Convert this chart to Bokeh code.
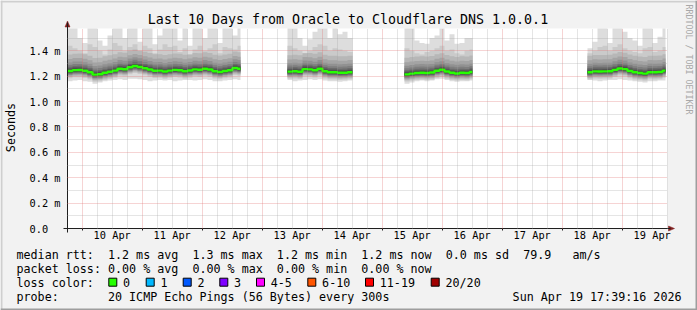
import math
import re
from bokeh.plotting import figure
from bokeh.models import FixedTicker, Range1d
from bokeh.core.properties import value
from bokeh.embed import file_html
from bokeh.resources import INLINE

# ---------------- data ----------------
title_text = "Last 10 Days from Oracle to Cloudflare DNS 1.0.0.1"
x_window = [-5.88, 234.12]          # hours since 10 Apr 00:00
y_window = [0.0, 1.575]             # milliseconds
seg_start = [-5.88, 82.12, 128.92, 202.12]
seg_end = [63.32, 108.12, 156.12, 233.32]
bin_hours = 2.0

median_1 = [1.240, 1.247, 1.248, 1.242, 1.230, 1.212, 1.215, 1.226, 1.234, 1.243,
            1.258, 1.254, 1.270, 1.280, 1.272, 1.262, 1.252, 1.242, 1.243, 1.236,
            1.243, 1.249, 1.246, 1.238, 1.244, 1.253, 1.250, 1.258, 1.252, 1.238,
            1.232, 1.240, 1.246, 1.264, 1.258]
median_2 = [1.235, 1.238, 1.234, 1.255, 1.253, 1.246, 1.258, 1.238, 1.230, 1.230,
            1.226, 1.227, 1.231]
median_3 = [1.214, 1.220, 1.225, 1.227, 1.225, 1.228, 1.242, 1.250, 1.236, 1.226,
            1.221, 1.226, 1.224, 1.232]
median_4 = [1.230, 1.237, 1.236, 1.237, 1.238, 1.249, 1.260, 1.255, 1.240, 1.230,
            1.224, 1.220, 1.231, 1.230, 1.232, 1.243]

ping_max_1 = [1.60, 1.60, 1.50, 1.46, 1.60, 1.60, 1.48, 1.44, 1.52, 1.60,
              1.60, 1.50, 1.60, 1.60, 1.47, 1.60, 1.60, 1.45, 1.52, 1.60,
              1.60, 1.60, 1.48, 1.60, 1.44, 1.60, 1.60, 1.50, 1.60, 1.60,
              1.46, 1.60, 1.60, 1.52, 1.60]
ping_max_2 = [1.60, 1.60, 1.50, 1.44, 1.49, 1.55, 1.60, 1.60, 1.50, 1.60,
              1.53, 1.55, 1.50]
ping_max_3 = [1.60, 1.60, 1.48, 1.46, 1.455, 1.50, 1.52, 1.60, 1.48, 1.53,
              1.455, 1.46, 1.50, 1.50]
ping_max_4 = [1.42, 1.47, 1.60, 1.60, 1.46, 1.60, 1.60, 1.55, 1.50, 1.48,
              1.44, 1.60, 1.60, 1.46, 1.51, 1.60]

ping_p19_1 = [1.44, 1.42, 1.40, 1.38, 1.45, 1.43, 1.40, 1.37, 1.41, 1.46,
              1.44, 1.40, 1.43, 1.45, 1.40, 1.44, 1.42, 1.38, 1.41, 1.45,
              1.43, 1.44, 1.39, 1.42, 1.37, 1.41, 1.44, 1.40, 1.42, 1.45,
              1.38, 1.43, 1.42, 1.41, 1.44]
ping_p19_2 = [1.44, 1.42, 1.40, 1.38, 1.40, 1.43, 1.45, 1.44, 1.40, 1.42,
              1.41, 1.40, 1.39]
ping_p19_3 = [1.42, 1.40, 1.38, 1.37, 1.39, 1.40, 1.42, 1.44, 1.40, 1.41,
              1.38, 1.37, 1.40, 1.41]
ping_p19_4 = [1.38, 1.40, 1.43, 1.44, 1.40, 1.43, 1.45, 1.42, 1.40, 1.39,
              1.38, 1.42, 1.43, 1.39, 1.40, 1.43]

ping_min_1 = [1.160, 1.165, 1.170, 1.160, 1.155, 1.140, 1.150, 1.160, 1.165, 1.170,
              1.175, 1.170, 1.180, 1.180, 1.175, 1.170, 1.160, 1.165, 1.170, 1.165,
              1.170, 1.160, 1.165, 1.170, 1.170, 1.165, 1.170, 1.175, 1.170, 1.160,
              1.160, 1.165, 1.170, 1.175, 1.170]
ping_min_2 = [1.170, 1.160, 1.165, 1.170, 1.175, 1.170, 1.175, 1.165, 1.160, 1.160,
              1.155, 1.160, 1.165]
ping_min_3 = [1.140, 1.150, 1.160, 1.165, 1.160, 1.165, 1.175, 1.180, 1.170, 1.160,
              1.155, 1.160, 1.160, 1.165]
ping_min_4 = [1.170, 1.165, 1.160, 1.165, 1.170, 1.170, 1.175, 1.170, 1.165, 1.160,
              1.155, 1.150, 1.160, 1.160, 1.165, 1.165]

# typical offset of the inner sorted pings from the median (ms)
lower_offsets = [-0.056, -0.046, -0.038, -0.031, -0.025, -0.020, -0.015, -0.010, -0.005]  # cp2..cp10
upper_offsets = [0.006, 0.013, 0.022, 0.033, 0.048, 0.068, 0.095, 0.130]                  # cp11..cp18

x_tick_hours = [12, 36, 60, 84, 108, 132, 156, 180, 204, 228]
x_tick_labels = ["10 Apr", "11 Apr", "12 Apr", "13 Apr", "14 Apr",
                 "15 Apr", "16 Apr", "17 Apr", "18 Apr", "19 Apr"]
y_tick_values = [0.0, 0.2, 0.4, 0.6, 0.8, 1.0, 1.2, 1.4]
y_tick_labels = ["0.0\u00a0\u00a0", "0.2 m", "0.4 m", "0.6 m", "0.8 m", "1.0 m", "1.2 m", "1.4 m"]

rtt_values = ["1.2 ms avg", "1.3 ms max", "1.2 ms min", "1.2 ms now", "0.0 ms sd", "79.9   am/s"]
loss_values = ["0.00 % avg", "0.00 % max", "0.00 % min", "0.00 % now"]
loss_labels = ["0", "1", "2", "3", "4-5", "6-10", "11-19", "20/20"]
loss_colors = ["#26ff00", "#00b8ff", "#0059ff", "#7e00ff", "#ff00ff", "#ff5500", "#ff0000", "#a00000"]
probe_text = "20 ICMP Echo Pings (56 Bytes) every 300s"
stamp_text = "Sun Apr 19 17:39:16 2026"

medians = [median_1, median_2, median_3, median_4]
maxes = [ping_max_1, ping_max_2, ping_max_3, ping_max_4]
p19s = [ping_p19_1, ping_p19_2, ping_p19_3, ping_p19_4]
mins = [ping_min_1, ping_min_2, ping_min_3, ping_min_4]

# ---------------- layout helpers (pixel -> data) ----------------
W, H = 697, 310
FL, FT, FR, FB = 67, 28, 667, 228
XPX = (FR - FL) / (x_window[1] - x_window[0])     # px per hour
YPX = (FB - FT) / (y_window[1] - y_window[0])     # px per ms
MONO = "DejaVu Sans Mono"


def xd(X):
    return x_window[0] + (X - FL) / XPX


def yd(Y):
    return y_window[0] + (FB - Y) / YPX


def keep_spaces(s):
    # keep runs of blanks (SVG collapses plain whitespace)
    return re.sub(r" {2,}", lambda m: " " + "\u00a0" * (len(m.group()) - 1), s)


p = figure(width=W, height=H, output_backend="svg", toolbar_location=None,
           x_range=Range1d(xd(0), xd(W)), y_range=Range1d(yd(H), yd(0)),
           min_border=0, min_border_left=0, min_border_right=0,
           min_border_top=0, min_border_bottom=0)
p.border_fill_color = "#f2f2f2"
p.background_fill_color = "#f2f2f2"
p.outline_line_color = None

# canvas
p.quad(left=[x_window[0]], right=[x_window[1]], bottom=[y_window[0]], top=[y_window[1]],
       fill_color="#ffffff", line_color=None)

# smoke
smoke_greys = []
half = 10
for ib in range(1, 11):
    c = int(190 / half * (half - ib)) + 50
    smoke_greys.append("#%02x%02x%02x" % (c, c, c))

top = y_window[1]
for s in range(4):
    n = len(medians[s])
    xs = [seg_start[s] + i * bin_hours for i in range(n)] + [seg_end[s]]
    cps = {k: [] for k in range(1, 21)}
    for i in range(n):
        m = medians[s][i]
        lo = mins[s][i]
        hi19 = p19s[s][i]
        cps[1].append(lo)
        cps[20].append(min(maxes[s][i], top))
        cps[19].append(min(hi19, top))
        for k in range(2, 11):
            cps[k].append(max(m + lower_offsets[k - 2], lo))
        for k in range(11, 19):
            cps[k].append(min(m + upper_offsets[k - 11], hi19))
    for k in cps:
        cps[k].append(cps[k][-1])
    for ib in range(1, 11):
        p.varea_step(x=xs, y1=cps[ib], y2=cps[21 - ib], step_mode="after",
                     fill_color=smoke_greys[ib - 1])
    med = medians[s] + [medians[s][-1]]
    p.step(xs, med, mode="after", line_color=loss_colors[0], line_width=2.4)

# axes (drawn at fixed positions inside the full-canvas frame)
axis_col = "#1f1f1f"
for ax in (p.xaxis[0], p.yaxis[0]):
    ax.axis_line_color = axis_col
    ax.major_label_text_font = MONO
    ax.major_label_text_font_size = "10.3px"
    ax.major_label_text_color = "#000000"
    ax.major_tick_in = 0
    ax.major_tick_out = 0
    ax.minor_tick_in = 0
    ax.minor_tick_out = 0

midnights = [24 * d for d in range(0, 10)]
six_hours = [h for h in range(6, 235, 6) if h % 24 != 0]
p.xaxis.fixed_location = y_window[0]
p.xaxis.bounds = (xd(FL - 4), xd(670))
p.xaxis.ticker = FixedTicker(ticks=x_tick_hours, minor_ticks=midnights)
p.xaxis.major_label_overrides = dict(zip(x_tick_hours, x_tick_labels))
p.xaxis.major_label_standoff = -2
p.xaxis.minor_tick_out = 2
p.xaxis.minor_tick_line_color = axis_col

p.yaxis.fixed_location = x_window[0]
p.yaxis.bounds = (yd(FB + 4), yd(22))
p.yaxis.ticker = FixedTicker(ticks=y_tick_values)
p.yaxis.major_label_overrides = dict(zip(y_tick_values, y_tick_labels))
p.yaxis.major_label_standoff = 7

minor_y = [0.1, 0.3, 0.5, 0.7, 0.9, 1.1, 1.3, 1.5]
p.xgrid.ticker = FixedTicker(ticks=midnights, minor_ticks=six_hours)
p.ygrid.ticker = FixedTicker(ticks=y_tick_values[1:], minor_ticks=minor_y)
p.xgrid.bounds = tuple(x_window)
p.xgrid.cross_bounds = tuple(y_window)
p.ygrid.bounds = tuple(y_window)
p.ygrid.cross_bounds = tuple(x_window)
for g in (p.xgrid[0], p.ygrid[0]):
    g.grid_line_color = "#e07070"
    g.grid_line_alpha = 0.6
    g.grid_line_dash = [1, 1]
    g.grid_line_width = 1
    g.minor_grid_line_color = "#a0a0a0"
    g.minor_grid_line_alpha = 0.55
    g.minor_grid_line_dash = [1, 1]
    g.minor_grid_line_width = 1
    g.level = "overlay"

# arrow heads
arrow_col = "#801f1f"
p.patch([xd(FL - 2.5), xd(FL), xd(FL + 2.5)], [yd(26.5), yd(20.5), yd(26.5)],
        fill_color=arrow_col, line_color=arrow_col, line_width=0.5)
p.patch([xd(668), xd(674), xd(668)], [yd(225.5), yd(FB), yd(230.5)],
        fill_color=arrow_col, line_color=arrow_col, line_width=0.5)


def text(X, Y, t, size="11.7px", align="left", angle=0.0, color="#000000"):
    p.text(x=[xd(X)], y=[yd(Y)], text=[keep_spaces(t)], text_font=value(MONO),
           text_font_size=value(size), text_align=align, text_baseline="middle",
           angle=angle, text_color=color)


def box(X0, Y0, X1, Y1, fill, line=None):
    p.quad(left=[xd(X0)], right=[xd(X1)], top=[yd(Y0)], bottom=[yd(Y1)],
           fill_color=fill, line_color=line, line_width=1)


# texts
text(347.5, 19.3, title_text, size="13.3px", align="center")
text(10.5, 127, "Seconds", align="center", angle=math.pi / 2)
text(688.5, 4, "RRDTOOL / TOBI OETIKER", size="8.3px", align="left",
     angle=-math.pi / 2, color="#a8a8a8")

line1 = "median rtt:  " + "  ".join(rtt_values)
line2 = "packet loss: " + "  ".join(loss_values)
text(16, 254.3, line1)
text(16, 268.3, line2)
text(16, 282.3, "loss color:")
box_x = [108.3, 145.7, 182.7, 219.3, 256.0, 307.3, 365.0, 430.7]
for bx, lab, col in zip(box_x, loss_labels, loss_colors):
    box(bx, 277.7, bx + 8, 285.7, col, "#000000")
    text(bx + 14.3, 282.3, lab)
text(16, 296.0, "probe:       " + probe_text)
text(681, 296.0, stamp_text, align="right")

# frame shading
box(0, 0, W, 2, "#cfcfcf")
box(0, 0, 2, H, "#cfcfcf")
box(W - 2, 0, W, H, "#9e9e9e")
box(0, H - 2, W, H, "#9e9e9e")

open("out.html", "w").write(file_html(p, INLINE))
